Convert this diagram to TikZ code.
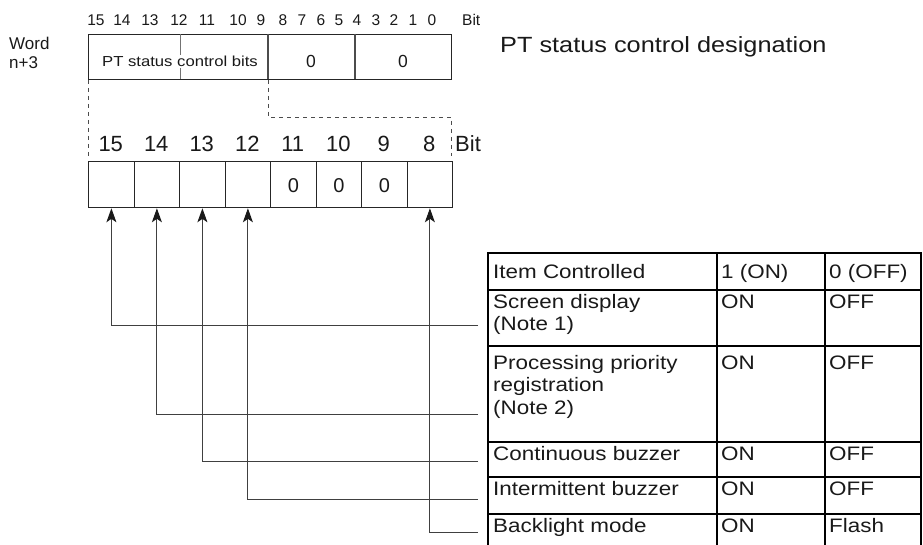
\documentclass[tikz,border=0pt]{standalone}
\usepackage{fontspec}
\setmainfont{Liberation Sans}
\newfontfamily\wide[FakeStretch=1.15]{Liberation Sans}
\usetikzlibrary{arrows.meta}
\newcommand{\fs}[1]{\fontsize{#1}{#1}\selectfont}
\begin{document}
\begin{tikzpicture}[x=1pt,y=-1pt,
  txt/.style={inner sep=0pt, text=black!90},
  topnum/.style={txt, anchor=base, font=\fs{15.5}},
  lownum/.style={txt, anchor=base, font=\fs{22}},
  tab/.style={txt, anchor=base west, font=\wide\fs{19.5}},
  regline/.style={draw=black!85, line width=1.3pt},
  cell/.style={draw=black!85, line width=1.3pt, minimum width=45.5pt, minimum height=46pt, inner sep=0pt, anchor=north west},
  dashline/.style={draw=black!70, line width=0.9pt, dash pattern=on 4pt off 4pt},
  conn/.style={draw=black!75, line width=1pt, -{Stealth[length=14pt,width=10pt,inset=3.5pt,color=black!90,fill=black!90]}},
  tabline/.style={draw=black, line width=1.8pt}
]
\useasboundingbox (0,0) rectangle (923,545);

% top bit numbers
\foreach \n/\x in {15/96,14/122,13/150,12/179,11/207,10/238,9/261,8/283,7/302,6/321,5/339,4/357,3/376,2/394,1/413,0/432}
  \node[topnum] (t\n) at (\x,26) {\n};
\node[txt, anchor=base west, font=\fs{15.5}] (tbit) at (462,26) {Bit};

% Word n+3
\node[txt, anchor=base west, font=\fs{17}] (word) at (9,50) {Word};
\node[txt, anchor=base west, font=\fs{17}] (nword) at (9,69) {n+3};

% top register
\node[regline, draw, minimum width=363pt, minimum height=45pt, inner sep=0pt, anchor=north west] (treg) at (88,34) {};
\draw[draw=black!55, line width=0.8pt] (180,34) -- (180,79);
\draw[regline, draw=black!70] (268,34) -- (268,79);
\draw[regline, draw=black!70] (355,34) -- (355,79);
\node[txt, fill=white, inner sep=1pt, font=\wide\fs{14.5}, anchor=base] (ptbits) at (180,67) {PT status control bits};
\node[txt, font=\fs{17.5}, anchor=base] (z1) at (311,68) {0};
\node[txt, font=\fs{17.5}, anchor=base] (z2) at (403,68) {0};

\node[txt, anchor=base west, font=\wide\fs{22}] (title) at (500,53) {PT status control designation};

% dashed expansion lines
\draw[dashline] (88,80) -- (88,156);
\draw[dashline] (268,80) -- (268,117) -- (451,117) -- (451,156);

% lower register
\foreach \b [count=\i from 0] in {15,14,13,12,11,10,9,8} {
  \node[cell] (c\b) at ({88+\i*45.5},161) {};
  \node[lownum] (l\b) at ({88+\i*45.5+22.75},152) {\b};
}
\node[txt, anchor=base west, font=\fs{22}] (lbit) at (455,152) {Bit};
\foreach \b in {11,10,9}
  \node[txt, font=\fs{20}, anchor=base] (v\b) at ([yshift=-8pt]c\b.center) {0};

% table
\draw[tabline] (488,253) -- (922,253);
\foreach \y in {290,346,442,477,514}
  \draw[tabline] (488,\y) -- (922,\y);
\foreach \x in {488,717,825,921}
  \draw[tabline] (\x,252.1) -- (\x,546);

\node[tab] (h1) at (493,278) {Item Controlled};
\node[tab] (h2) at (721,278) {1 (ON)};
\node[tab] (h3) at (829,278) {0 (OFF)};

\node[tab] (r2a) at (493,308) {Screen display};
\node[tab] (r2b) at (493,330.5) {(Note 1)};
\node[tab] (r2on) at (721,308) {ON};
\node[tab] (r2off) at (829,308) {OFF};

\node[tab] (r3a) at (493,369) {Processing priority};
\node[tab] (r3b) at (493,391.5) {registration};
\node[tab] (r3c) at (493,414) {(Note 2)};
\node[tab] (r3on) at (721,369) {ON};
\node[tab] (r3off) at (829,369) {OFF};

\node[tab] (r4a) at (493,460) {Continuous buzzer};
\node[tab] (r4on) at (721,460) {ON};
\node[tab] (r4off) at (829,460) {OFF};

\node[tab] (r5a) at (493,495) {Intermittent buzzer};
\node[tab] (r5on) at (721,495) {ON};
\node[tab] (r5off) at (829,495) {OFF};

\node[tab] (r6a) at (493,532) {Backlight mode};
\node[tab] (r6on) at (721,532) {ON};
\node[tab] (r6off) at (829,532) {Flash};

% connectors
\coordinate (e1) at (478,325);
\coordinate (e2) at (478,414);
\coordinate (e3) at (478,461);
\coordinate (e4) at (478,499);
\coordinate (e5) at (478,532);
\draw[conn] (e1) -| (c15.south);
\draw[conn] (e2) -| (c14.south);
\draw[conn] (e3) -| (c13.south);
\draw[conn] (e4) -| (c12.south);
\draw[conn] (e5) -| (c8.south);
\end{tikzpicture}
\end{document}
